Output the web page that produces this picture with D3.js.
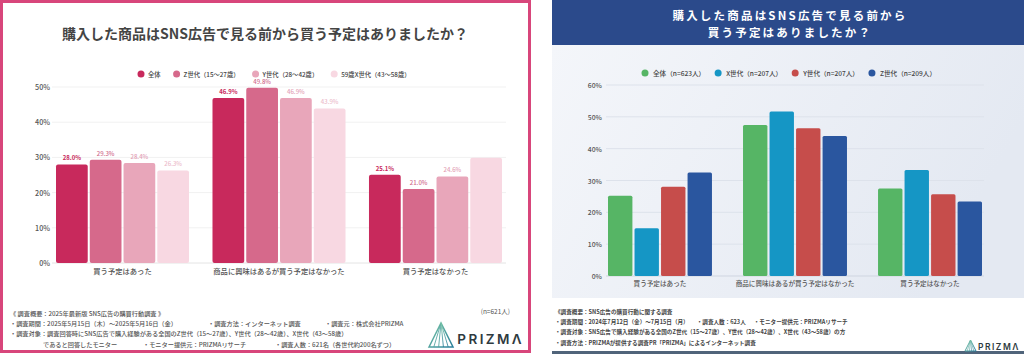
<!DOCTYPE html>
<html>
<head>
<meta charset="utf-8">
<script src="https://cdn.jsdelivr.net/npm/d3@7"></script>
<style>
  body { margin: 0; background: #fff; }
  svg { display: block; font-family: "Noto Sans CJK JP", "Noto Sans", sans-serif; }
</style>
</head>
<body>
<svg id="chart" width="1024" height="354"></svg>
<script>
// ---- data ----
const categories = ['買う予定はあった', '商品に興味はあるが買う予定はなかった', '買う予定はなかった'];

const leftTitle = '購入した商品はSNS広告で見る前から買う予定はありましたか？';
const leftSeries = ['全体', 'Z世代（15〜27歳）', 'Y世代（28〜42歳）', '59歳X世代（43〜58歳）'];
const leftValues = [
  [28.0, 46.9, 25.1],
  [29.3, 49.8, 21.0],
  [28.4, 46.9, 24.6],
  [26.3, 43.9, 29.9],
];
// the last bar carries no value label in the original
const leftHiddenLabels = [[3, 2]];
const leftTicks = [0, 10, 20, 30, 40, 50];
const leftCount = '(n=621人)';
const leftNotes = [
  ['《 調査概要：2025年最新版 SNS広告の購買行動調査 》'],
  ['・調査期間：2025年5月15日（木）〜2025年5月16日（金）', '・調査方法：インターネット調査', '・調査元：株式会社PRIZMA'],
  ['・調査対象：調査回答時にSNS広告で購入経験がある全国のZ世代（15〜27歳）、Y世代（28〜42歳）、X世代（43〜58歳）'],
  ['であると回答したモニター', '・モニター提供元：PRIZMAリサーチ', '・調査人数：621名（各世代約200名ずつ）'],
];

const rightTitle = ['購入した商品はSNS広告で見る前から', '買う予定はありましたか？'];
const rightSeries = ['全体（n=623人）', 'X世代（n=207人）', 'Y世代（n=207人）', 'Z世代（n=209人）'];
const rightValues = [
  [25.2, 47.4, 27.5],
  [15.0, 51.7, 33.3],
  [28.0, 46.4, 25.7],
  [32.5, 44.0, 23.4],
];
const rightTicks = [0, 10, 20, 30, 40, 50, 60];
const rightNotes = [
  ['《調査概要：SNS広告の購買行動に関する調査'],
  ['・調査期間：2024年7月12日（金）〜7月15日（月）', '・調査人数：623人', '・モニター提供元：PRIZMAリサーチ'],
  ['・調査対象：SNS広告で購入経験がある全国のZ世代（15〜27歳）、Y世代（28〜42歳）、X世代（43〜58歳）の方'],
  ['・調査方法：PRIZMAが提供する調査PR「PRIZMA」によるインターネット調査'],
];

// ---- styles ----
const LEFT_COLORS = ['#c8295c', '#d6698b', '#e8a6ba', '#f8d8e2'];
const LEFT_LABEL_COLORS = ['#c8295c', '#d06c8c', '#e3a2b6', '#ecbccb'];
const RIGHT_COLORS = ['#56b565', '#1596c5', '#c64d4b', '#2a569f'];

const svg = d3.select('#chart');
const defs = svg.append('defs');

function drawLegend(g, names, colors, startX, y, o) {
  let cx = startX;
  names.forEach((name, i) => {
    g.append('circle').attr('cx', cx).attr('cy', y).attr('r', o.r).attr('fill', colors[i]);
    const t = g.append('text')
      .attr('x', cx + o.dx).attr('y', y)
      .attr('dominant-baseline', 'central')
      .attr('font-size', o.size).attr('font-weight', 500).attr('fill', o.fill)
      .text(name);
    cx += o.dx + t.node().getComputedTextLength() + o.gap;
  });
}

// xs: fixed x per segment, or a number = start x with flowing segments separated by o.gap
function drawNotes(g, lines, xs, ys, o) {
  lines.forEach((segs, li) => {
    let x = Array.isArray(xs) ? null : xs;
    segs.forEach((s, si) => {
      const t = g.append('text')
        .attr('x', x === null ? xs[li][si] : x).attr('y', ys[li])
        .attr('dominant-baseline', 'central')
        .attr('font-size', o.size).attr('font-weight', o.weight).attr('fill', o.fill)
        .text(s);
      if (x !== null) x += t.node().getComputedTextLength() + o.gap;
    });
  });
}

function drawLogo(g, x, y, s, textSize, spacing, gradId) {
  const grad = defs.append('linearGradient').attr('id', gradId)
    .attr('x1', 0).attr('y1', 0).attr('x2', 1).attr('y2', 1);
  grad.append('stop').attr('offset', 0).attr('stop-color', '#7cc9a6');
  grad.append('stop').attr('offset', 1).attr('stop-color', '#2a7e9a');
  const lg = g.append('g').attr('transform', `translate(${x},${y})`);
  lg.append('path')
    .attr('d', `M0,${s} L${s / 2},0 L${s},${s} Z`)
    .attr('fill', 'none').attr('stroke', `url(#${gradId})`).attr('stroke-width', Math.max(1, s / 16));
  [0.2, 0.4, 0.6, 0.8].forEach(f => {
    lg.append('line')
      .attr('x1', s / 2).attr('y1', 0)
      .attr('x2', s * f).attr('y2', s)
      .attr('stroke', `url(#${gradId})`).attr('stroke-width', Math.max(0.6, s / 28));
  });
  lg.append('text')
    .attr('x', s + s * 0.18).attr('y', s * 0.88)
    .attr('font-family', 'Inter, "Noto Sans", sans-serif')
    .attr('font-size', textSize).attr('font-weight', 600)
    .attr('letter-spacing', spacing).attr('fill', '#2e3a40')
    .text('PRIZMΛ');
}

// ================= left panel =================
const L = svg.append('g');
L.append('rect').attr('x', 1.5).attr('y', 1.5).attr('width', 528).attr('height', 350)
  .attr('fill', '#fff').attr('stroke', '#d8467b').attr('stroke-width', 3);

L.append('text').attr('x', 265).attr('y', 33).attr('text-anchor', 'middle')
  .attr('dominant-baseline', 'central')
  .attr('font-size', 14).attr('font-weight', 700).attr('fill', '#444')
  .text(leftTitle);

drawLegend(L, leftSeries, LEFT_COLORS, 141, 74, { r: 3.5, dx: 7, gap: 16, size: 6.3, fill: '#444' });

const ly = d3.scaleLinear().domain([0, 50]).range([263, 87]);
const lx0 = d3.scaleBand().domain(categories).range([56, 502]).paddingInner(0.15);
const lx1 = d3.scaleBand().domain(d3.range(leftSeries.length)).range([0, lx0.bandwidth()]).paddingInner(0.06);

L.append('g').selectAll('line').data(leftTicks).join('line')
  .attr('x1', 52).attr('x2', 506)
  .attr('y1', d => ly(d)).attr('y2', d => ly(d))
  .attr('stroke', d => d === 0 ? '#e4e4e4' : '#f1f1f1').attr('stroke-width', 1);

L.append('g').selectAll('text').data(leftTicks).join('text')
  .attr('x', 50).attr('y', d => ly(d))
  .attr('text-anchor', 'end').attr('dominant-baseline', 'central')
  .attr('font-size', 7.2).attr('font-weight', 500).attr('fill', '#555')
  .text(d => `${d}%`);

const leftBars = [];
leftValues.forEach((vals, si) => vals.forEach((v, ci) => leftBars.push({ si, ci, v })));

L.append('g').selectAll('rect').data(leftBars).join('rect')
  .attr('x', d => lx0(categories[d.ci]) + lx1(d.si))
  .attr('y', d => ly(d.v))
  .attr('width', lx1.bandwidth())
  .attr('height', d => ly(0) - ly(d.v))
  .attr('rx', 2)
  .attr('fill', d => LEFT_COLORS[d.si]);

const hidden = new Set(leftHiddenLabels.map(([s, c]) => `${s}-${c}`));
L.append('g').selectAll('text').data(leftBars.filter(d => !hidden.has(`${d.si}-${d.ci}`))).join('text')
  .attr('x', d => lx0(categories[d.ci]) + lx1(d.si) + lx1.bandwidth() / 2)
  .attr('y', d => ly(d.v) - 4)
  .attr('text-anchor', 'middle')
  .attr('font-size', 6).attr('font-weight', d => d.si === 0 ? 700 : 500)
  .attr('fill', d => LEFT_LABEL_COLORS[d.si])
  .text(d => `${d.v.toFixed(1)}%`);

L.append('g').selectAll('text').data(categories).join('text')
  .attr('x', d => lx0(d) + lx0.bandwidth() / 2).attr('y', 271)
  .attr('text-anchor', 'middle').attr('dominant-baseline', 'central')
  .attr('font-size', 7.3).attr('font-weight', 500).attr('fill', '#555')
  .text(d => d);

L.append('text').attr('x', 510).attr('y', 311).attr('text-anchor', 'end')
  .attr('dominant-baseline', 'central')
  .attr('font-size', 6.5).attr('fill', '#555').text(leftCount);

drawNotes(L, leftNotes,
  [[10], [10, 208, 325], [10], [43, 143, 275]],
  [313, 323, 333, 344],
  { size: 6.2, weight: 500, fill: '#555' });

drawLogo(L, 429, 323, 24, 13.5, 2.4, 'logoL');

// ================= right panel =================
const R = svg.append('g');
const bg = defs.append('linearGradient').attr('id', 'rbg').attr('x1', 0).attr('y1', 0).attr('x2', 1).attr('y2', 0.3);
bg.append('stop').attr('offset', 0).attr('stop-color', '#f4f6fa');
bg.append('stop').attr('offset', 1).attr('stop-color', '#e4e9f2');

R.append('rect').attr('x', 552).attr('y', 45).attr('width', 472).attr('height', 253).attr('fill', 'url(#rbg)');
R.append('rect').attr('x', 552).attr('y', 0).attr('width', 472).attr('height', 45).attr('fill', '#2b4a8b');
R.append('rect').attr('x', 552).attr('y', 351).attr('width', 472).attr('height', 3).attr('fill', '#50647a');

rightTitle.forEach((t, i) => {
  R.append('text').attr('x', 790).attr('y', 15 + i * 17)
    .attr('text-anchor', 'middle').attr('dominant-baseline', 'central')
    .attr('font-size', 11.5).attr('font-weight', 700).attr('letter-spacing', 2.2).attr('fill', '#fff')
    .text(t);
});

drawLegend(R, rightSeries, RIGHT_COLORS, 645, 73, { r: 3.5, dx: 8, gap: 13, size: 6.6, fill: '#444' });

const ry = d3.scaleLinear().domain([0, 60]).range([276, 85]);
const rx0 = d3.scaleBand().domain(categories).range([608, 982]).paddingInner(0.23);
const rx1 = d3.scaleBand().domain(d3.range(rightSeries.length)).range([0, rx0.bandwidth()]).paddingInner(0.08);

R.append('g').selectAll('line').data(rightTicks).join('line')
  .attr('x1', 606).attr('x2', 984)
  .attr('y1', d => ry(d)).attr('y2', d => ry(d))
  .attr('stroke', d => d === 0 ? '#cfd5e0' : '#dde2eb').attr('stroke-width', 1);

R.append('g').selectAll('text').data(rightTicks).join('text')
  .attr('x', 602).attr('y', d => ry(d))
  .attr('text-anchor', 'end').attr('dominant-baseline', 'central')
  .attr('font-size', 6.8).attr('font-weight', 500).attr('fill', '#555')
  .text(d => `${d}%`);

const rightBars = [];
rightValues.forEach((vals, si) => vals.forEach((v, ci) => rightBars.push({ si, ci, v })));

R.append('g').selectAll('rect').data(rightBars).join('rect')
  .attr('x', d => rx0(categories[d.ci]) + rx1(d.si))
  .attr('y', d => ry(d.v))
  .attr('width', rx1.bandwidth())
  .attr('height', d => ry(0) - ry(d.v))
  .attr('rx', 1.5)
  .attr('fill', d => RIGHT_COLORS[d.si]);

R.append('g').selectAll('text').data(categories).join('text')
  .attr('x', d => rx0(d) + rx0.bandwidth() / 2).attr('y', 283)
  .attr('text-anchor', 'middle').attr('dominant-baseline', 'central')
  .attr('font-size', 6.6).attr('font-weight', 500).attr('fill', '#555')
  .text(d => d);

drawNotes(R, rightNotes, 555,
  [312, 322, 332, 343],
  { size: 5.6, weight: 700, fill: '#444', gap: 8 });

drawLogo(R, 965, 340, 11, 8.5, 1.5, 'logoR');
</script>
</body>
</html>
